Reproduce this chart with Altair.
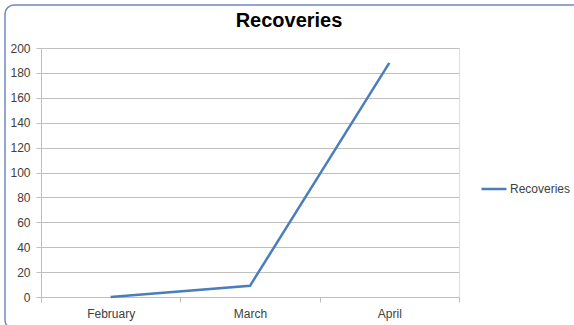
import altair as alt
import pandas as pd

months = ["February", "March", "April"]
recoveries = [0, 9, 188]
series = ["Recoveries"] * 3

df = pd.DataFrame({"month": months, "value": recoveries, "series": series})

FONT = "Liberation Sans"
W, H = 418, 249

border = alt.Chart(pd.DataFrame({"a": [0]})).mark_rect(
    fill=None, stroke="#7388c4", strokeWidth=1.5, cornerRadius=9, clip=False
).encode(
    x=alt.value(-36), x2=alt.value(W + 135),
    y=alt.value(-43), y2=alt.value(H + 32),
)

line = alt.Chart(df).mark_line(color="#4a7ebb", strokeWidth=2.5).encode(
    x=alt.X("month:N", sort=months, bandPosition=0.5,
            scale=alt.Scale(type="band", paddingInner=0, paddingOuter=0),
            axis=alt.Axis(title=None, labelAngle=0, tickBand="extent", grid=False,
                          domainColor="#bfbfbf", tickColor="#bfbfbf", tickSize=5,
                          labelFont=FONT, labelFontSize=12, labelColor="#404040",
                          labelPadding=6)),
    y=alt.Y("value:Q", scale=alt.Scale(domain=[0, 200], nice=False),
            axis=alt.Axis(title=None, values=list(range(0, 201, 20)),
                          gridColor="#bfbfbf", domainColor="#bfbfbf",
                          tickColor="#bfbfbf", tickSize=5,
                          labelFont=FONT, labelFontSize=12, labelColor="#404040",
                          labelPadding=6)),
    stroke=alt.Stroke("series:N",
                      scale=alt.Scale(domain=["Recoveries"], range=["#4a7ebb"]),
                      legend=alt.Legend(title=None, orient="none", legendX=439,
                                        legendY=127, symbolType="stroke",
                                        symbolSize=625, symbolStrokeWidth=2.5,
                                        labelFont=FONT, labelFontSize=12,
                                        labelColor="#404040", labelOffset=2)),
)

chart = alt.layer(border, line).properties(
    width=W, height=H,
    autosize=alt.AutoSizeParams(type="none"),
    padding={"left": 41, "top": 48, "right": 115, "bottom": 28},
    title=alt.TitleParams("Recoveries", font=FONT, fontSize=20, fontWeight="bold",
                          color="#000000", anchor="middle", dx=39, offset=0, dy=43,
                          baseline="alphabetic"),
).configure_view(stroke=None).configure(background="white")

chart.save("out.html", embed_options={"renderer": "svg", "actions": False})
